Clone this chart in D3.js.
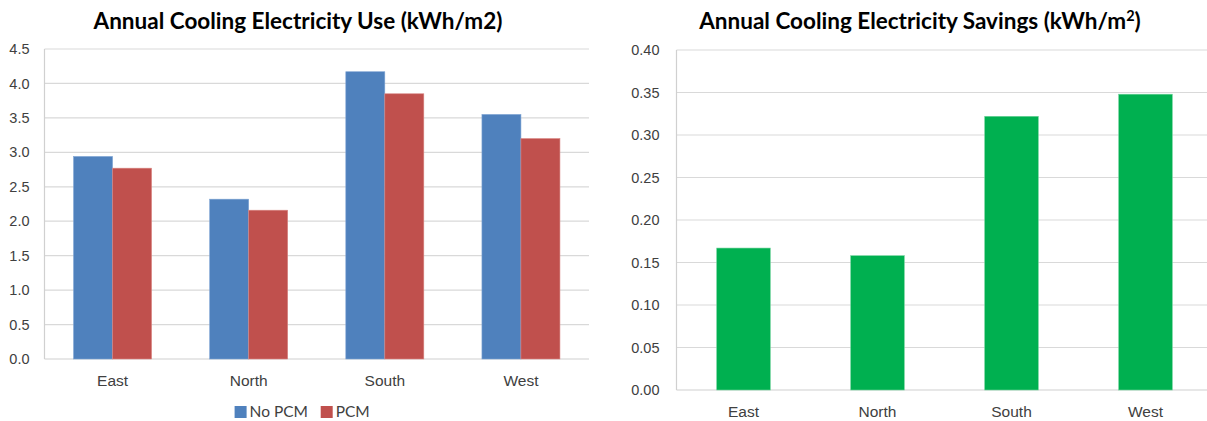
<!DOCTYPE html>
<html><head><meta charset="utf-8">
<script src="https://cdn.jsdelivr.net/npm/d3@7"></script>
<style>
html,body{margin:0;padding:0;background:#fff;}
svg{display:block;font-family:Lato, "Open Sans", sans-serif;}
.tick text{fill:#404040;}
</style></head>
<body>
<svg id="c" width="1207" height="421"></svg>
<script>
const categories = ["East", "North", "South", "West"];
const seriesNames = ["No PCM", "PCM"];
const noPCM = [2.94, 2.32, 4.17, 3.55];
const pcm = [2.77, 2.16, 3.85, 3.20];
const savings = [0.167, 0.158, 0.322, 0.348];
const leftTicks = [0, 0.5, 1.0, 1.5, 2.0, 2.5, 3.0, 3.5, 4.0, 4.5];
const rightTicks = [0, 0.05, 0.10, 0.15, 0.20, 0.25, 0.30, 0.35, 0.40];
const colors = ["#4f81bd", "#c0504d"];
const green = "#00b050";

const svg = d3.select("#c");

// ---------- Left chart ----------
const L = {left: 44.5, right: 589, top: 49, bottom: 359};
const xL = d3.scaleBand().domain(categories).range([L.left, L.right]).paddingInner(0).paddingOuter(0);
const yL = d3.scaleLinear().domain([0, 4.5]).range([L.bottom, L.top]);
const groupW = xL.bandwidth() * 0.573;
const xS = d3.scaleBand().domain(seriesNames).range([0, groupW]);

const gL = svg.append("g");
gL.append("g").selectAll("line").data(leftTicks).join("line")
  .attr("x1", L.left).attr("x2", L.right)
  .attr("y1", d => yL(d)).attr("y2", d => yL(d))
  .attr("stroke", d => d === 0 ? "#d0d0d0" : "#d9d9d9").attr("stroke-width", 1.2);
gL.append("line").attr("x1", L.left).attr("x2", L.left).attr("y1", L.top).attr("y2", L.bottom)
  .attr("stroke", "#d0d0d0").attr("stroke-width", 1.2);

const data = categories.map((c, i) => ({c, vals: [noPCM[i], pcm[i]]}));
gL.append("g").selectAll("g").data(data).join("g")
  .attr("transform", d => `translate(${xL(d.c) + (xL.bandwidth() - groupW) / 2},0)`)
  .selectAll("rect").data(d => d.vals.map((v, j) => ({v, s: seriesNames[j], j})))
  .join("rect")
  .attr("x", d => xS(d.s)).attr("width", xS.bandwidth())
  .attr("y", d => yL(d.v)).attr("height", d => yL(0) - yL(d.v))
  .attr("fill", d => colors[d.j])
  .attr("stroke", d => d.j === 0 ? "#7ea4d4" : "#d98683").attr("stroke-width", 0.6);

const yAxisL = d3.axisLeft(yL).tickValues(leftTicks).tickFormat(d3.format(".1f")).tickSize(0).tickPadding(15);
gL.append("g").attr("transform", `translate(${L.left},0)`).call(yAxisL)
  .call(g => g.select(".domain").remove())
  .selectAll("text").style("font-size", "14.5px");

const xAxisL = d3.axisBottom(xL).tickSize(0).tickPadding(16);
gL.append("g").attr("transform", `translate(0,${L.bottom})`).call(xAxisL)
  .call(g => g.select(".domain").remove())
  .selectAll("text").style("font-size", "15.5px");

gL.append("text").attr("x", 298).attr("y", 29).attr("text-anchor", "middle")
  .style("font-size", "22.5px").style("font-weight", "bold").attr("fill", "#000")
  .text("Annual Cooling Electricity Use (kWh/m2)");

// legend
const leg = gL.append("g").attr("transform", "translate(0,412)");
const legX = [234.6, 320.7];
seriesNames.forEach((s, i) => {
  leg.append("rect").attr("x", legX[i]).attr("y", -6).attr("width", 12).attr("height", 12).attr("fill", colors[i]);
  leg.append("text").attr("x", legX[i] + 15).attr("y", 0).attr("dy", "0.35em")
    .style("font-size", "15.5px").attr("fill", "#404040").text(s);
});

// ---------- Right chart ----------
const R = {left: 676.5, right: 1212.5, top: 50, bottom: 390};
const xR = d3.scaleBand().domain(categories).range([R.left, R.right]);
const yR = d3.scaleLinear().domain([0, 0.40]).range([R.bottom, R.top]);
const gR = svg.append("g");
gR.append("g").selectAll("line").data(rightTicks).join("line")
  .attr("x1", R.left).attr("x2", R.right)
  .attr("y1", d => yR(d)).attr("y2", d => yR(d))
  .attr("stroke", d => d === 0 ? "#d0d0d0" : "#d9d9d9").attr("stroke-width", 1.2);
gR.append("line").attr("x1", R.left).attr("x2", R.left).attr("y1", R.top).attr("y2", R.bottom)
  .attr("stroke", "#d0d0d0").attr("stroke-width", 1.2);

const bw = xR.bandwidth() * 0.4;
gR.append("g").selectAll("rect").data(categories.map((c, i) => ({c, v: savings[i]}))).join("rect")
  .attr("x", d => xR(d.c) + (xR.bandwidth() - bw) / 2).attr("width", bw)
  .attr("y", d => yR(d.v)).attr("height", d => yR(0) - yR(d.v))
  .attr("fill", green).attr("stroke", "#6fd39a").attr("stroke-width", 0.6);

gR.append("g").attr("transform", `translate(${R.left},0)`)
  .call(d3.axisLeft(yR).tickValues(rightTicks).tickFormat(d3.format(".2f")).tickSize(0).tickPadding(17))
  .call(g => g.select(".domain").remove())
  .selectAll("text").style("font-size", "14.5px");

gR.append("g").attr("transform", `translate(0,${R.bottom})`)
  .call(d3.axisBottom(xR).tickSize(0).tickPadding(16))
  .call(g => g.select(".domain").remove())
  .selectAll("text").style("font-size", "15.5px");

const tR = gR.append("text").attr("x", 920).attr("y", 29).attr("text-anchor", "middle")
  .style("font-size", "22.5px").style("font-weight", "bold").attr("fill", "#000");
tR.append("tspan").text("Annual Cooling Electricity Savings (kWh/m");
tR.append("tspan").attr("dy", -8).style("font-size", "14.5px").text("2");
tR.append("tspan").attr("dy", 8).text(")");
</script>
</body></html>
